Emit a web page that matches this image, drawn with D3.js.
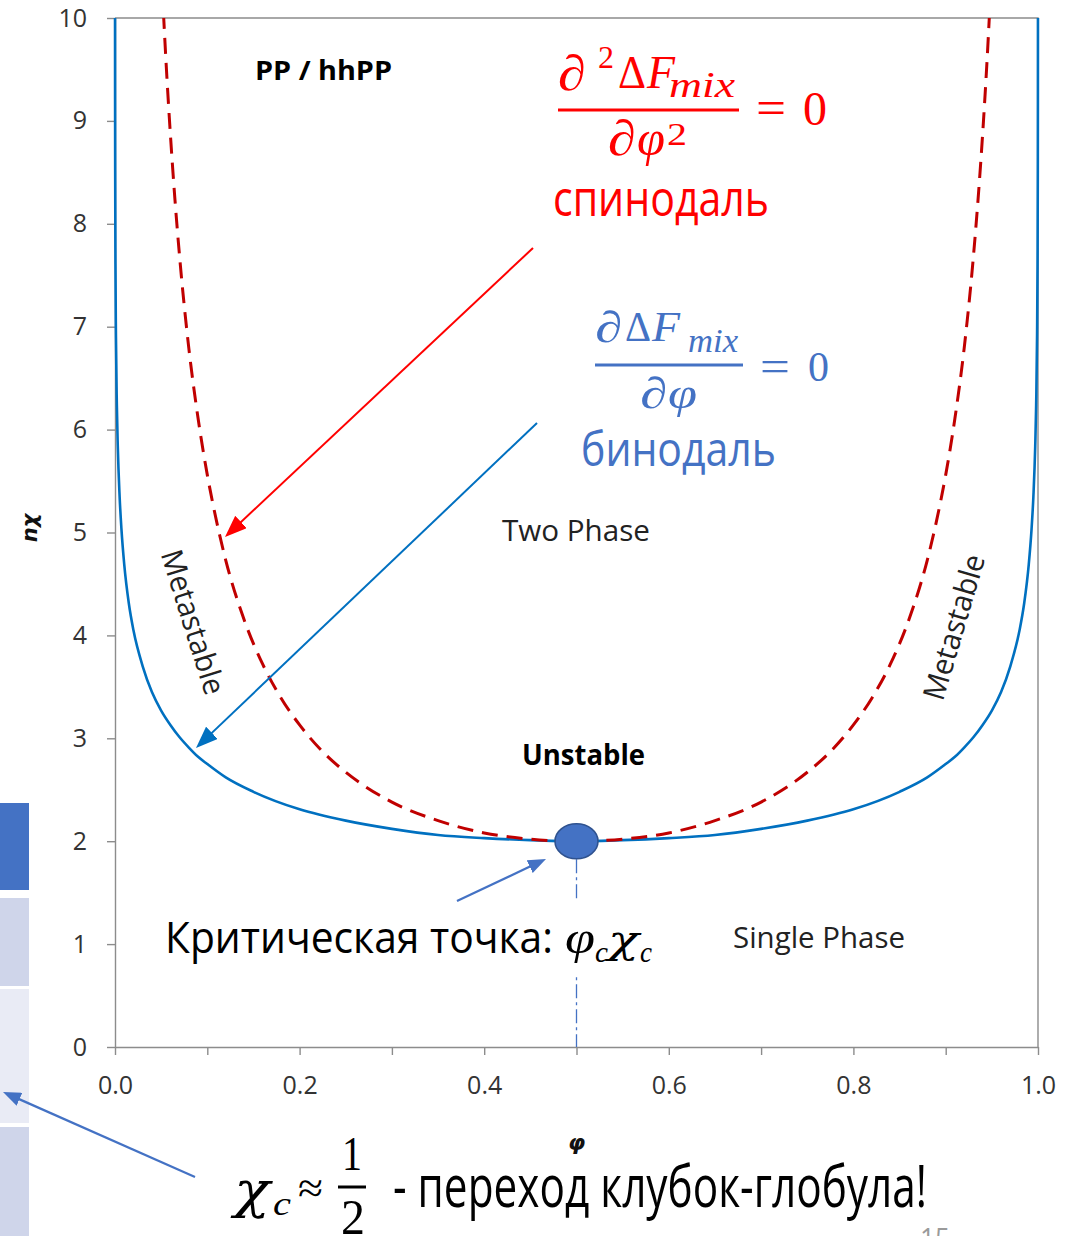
<!DOCTYPE html>
<html>
<head>
<meta charset="utf-8">
<script src="https://cdn.jsdelivr.net/npm/d3@7"></script>
<style>
  html, body { margin: 0; padding: 0; background: #fff; }
  svg { display: block; }
</style>
</head>
<body>
<svg id="chart" width="1084" height="1236"></svg>
<script>
// ---- Data: Flory–Huggins phase diagram (volume fraction φ vs nχ) ----
const xTickValues = [0, 0.1, 0.2, 0.3, 0.4, 0.5, 0.6, 0.7, 0.8, 0.9, 1.0];
const xTickLabels = ["0.0", "", "0.2", "", "0.4", "", "0.6", "", "0.8", "", "1.0"];
const yTickValues = [0, 1, 2, 3, 4, 5, 6, 7, 8, 9, 10];
const yTickLabels = ["0", "1", "2", "3", "4", "5", "6", "7", "8", "9", "10"];

// binodal (coexistence curve)
const binodalPhi = [0.00004, 0.00005, 0.0001, 0.0002, 0.0005, 0.001, 0.002, 0.003, 0.005, 0.007,
  0.01, 0.015, 0.02, 0.03, 0.04, 0.05, 0.06, 0.07, 0.08, 0.09, 0.10, 0.12, 0.15, 0.20, 0.25,
  0.30, 0.35, 0.40, 0.45, 0.50, 0.55, 0.60, 0.65, 0.70, 0.75, 0.80, 0.85, 0.88, 0.90, 0.91,
  0.92, 0.93, 0.94, 0.95, 0.96, 0.97, 0.98, 0.985, 0.99, 0.993, 0.995, 0.997, 0.998, 0.999,
  0.9995, 0.9998, 0.9999, 0.99995, 0.99996];
const binodalChi = [10.13, 9.90, 9.21, 8.52, 7.61, 6.92, 6.24, 5.84, 5.35, 5.03,
  4.69, 4.31, 4.05, 3.70, 3.45, 3.27, 3.13, 3.01, 2.91, 2.82, 2.75, 2.62, 2.48, 2.31, 2.20,
  2.12, 2.06, 2.03, 2.01, 2.00, 2.01, 2.03, 2.06, 2.12, 2.20, 2.31, 2.48, 2.62, 2.75, 2.82,
  2.91, 3.01, 3.13, 3.27, 3.45, 3.70, 4.05, 4.31, 4.69, 5.03, 5.35, 5.84, 6.24, 6.92,
  7.61, 8.52, 9.21, 9.90, 10.13];

// spinodal (stability limit)
const spinodalPhi = [0.0525, 0.055, 0.06, 0.065, 0.07, 0.08, 0.09, 0.10, 0.11, 0.12, 0.14, 0.16,
  0.18, 0.20, 0.225, 0.25, 0.30, 0.35, 0.40, 0.45, 0.50, 0.55, 0.60, 0.65, 0.70, 0.75, 0.775,
  0.80, 0.82, 0.84, 0.86, 0.88, 0.89, 0.90, 0.91, 0.92, 0.93, 0.935, 0.94, 0.945, 0.9475];
const spinodalChi = [10.05, 9.62, 8.87, 8.23, 7.68, 6.79, 6.11, 5.56, 5.11, 4.73, 4.15, 3.72,
  3.39, 3.13, 2.87, 2.67, 2.38, 2.20, 2.08, 2.02, 2.00, 2.02, 2.08, 2.20, 2.38, 2.67, 2.87,
  3.13, 3.39, 3.72, 4.15, 4.73, 5.11, 5.56, 6.11, 6.79, 7.68, 8.23, 8.87, 9.62, 10.05];

// critical point
const criticalPhi = 0.5;
const criticalChi = 2.0;

// ---- Setup ----
const SANS = "'Open Sans', 'Noto Sans', sans-serif";
const SERIF = "'Liberation Serif', 'DejaVu Serif', serif";
const GREEK = "'DejaVu Serif', serif";
const AXIS_GREY = "#8c8c8c";
const BLUE_LINE = "#0070c0";
const RED_LINE = "#c00000";
const SLIDE_BLUE = "#4472c4";

const svg = d3.select("#chart");
const defs = svg.append("defs");

const x = d3.scaleLinear().domain([0, 1]).range([115, 1038]);
const y = d3.scaleLinear().domain([0, 10]).range([1047, 18]);

// table cells peeking in from the left edge of the slide
const cells = [
  { y0: 803, y1: 890, fill: "#4472c4" },
  { y0: 898, y1: 986, fill: "#cfd5ea" },
  { y0: 989, y1: 1123, fill: "#e9ebf5" },
  { y0: 1127, y1: 1240, fill: "#cfd5ea" }
];
svg.append("g").selectAll("rect").data(cells).join("rect")
  .attr("x", 0).attr("width", 29)
  .attr("y", d => d.y0).attr("height", d => d.y1 - d.y0)
  .attr("fill", d => d.fill);

// ---- Axes ----
const yAxis = d3.axisLeft(y)
  .tickValues(yTickValues)
  .tickFormat((d, i) => yTickLabels[i])
  .tickSize(8).tickSizeOuter(0).tickPadding(20);
const gy = svg.append("g").attr("transform", `translate(${x(0)},0)`).call(yAxis);

const xAxis = d3.axisBottom(x)
  .tickValues(xTickValues)
  .tickFormat((d, i) => xTickLabels[i])
  .tickSize(8).tickSizeOuter(0).tickPadding(21);
const gx = svg.append("g").attr("transform", `translate(0,${y(0)})`).call(xAxis);

[gx, gy].forEach(g => {
  g.select(".domain").attr("stroke", AXIS_GREY).attr("stroke-width", 1.4);
  g.selectAll(".tick line").attr("stroke", AXIS_GREY).attr("stroke-width", 1.4);
  g.selectAll(".tick text").attr("fill", "#333").attr("font-family", SANS).attr("font-size", 25);
});

// top and right frame
svg.append("path")
  .attr("d", `M${x(0)},${y(10)}H${x(1)}V${y(0)}`)
  .attr("fill", "none").attr("stroke", AXIS_GREY).attr("stroke-width", 1.4);

// axis titles
svg.append("text")
  .attr("x", x(0.5)).attr("y", 1150)
  .attr("text-anchor", "middle")
  .attr("font-family", "'DejaVu Sans', sans-serif").attr("font-weight", "bold").attr("font-style", "italic")
  .attr("font-size", 22).attr("fill", "#111")
  .text("φ");
svg.append("text")
  .attr("transform", "translate(37,528) rotate(-90)")
  .attr("text-anchor", "middle")
  .attr("font-family", "'DejaVu Sans', sans-serif").attr("font-weight", "bold").attr("font-style", "italic")
  .attr("font-size", 21).attr("fill", "#111")
  .text("nχ");

// ---- Curves ----
defs.append("clipPath").attr("id", "plot-clip")
  .append("rect").attr("x", x(0) - 3).attr("y", y(10)).attr("width", x(1) - x(0) + 6).attr("height", y(0) - y(10));

const line = d3.line().x(d => x(d[0])).y(d => y(d[1])).curve(d3.curveMonotoneX);
const curves = svg.append("g").attr("clip-path", "url(#plot-clip)");

curves.append("path")
  .datum(binodalPhi.map((p, i) => [p, binodalChi[i]]))
  .attr("d", line)
  .attr("fill", "none").attr("stroke", BLUE_LINE).attr("stroke-width", 2.6);

curves.append("path")
  .datum(spinodalPhi.map((p, i) => [p, spinodalChi[i]]))
  .attr("d", line)
  .attr("fill", "none").attr("stroke", RED_LINE).attr("stroke-width", 3)
  .attr("stroke-dasharray", "16,9");

// drop line from the critical point to the φ axis
svg.append("line")
  .attr("x1", x(criticalPhi)).attr("x2", x(criticalPhi))
  .attr("y1", y(criticalChi) + 18).attr("y2", y(0))
  .attr("stroke", SLIDE_BLUE).attr("stroke-width", 1.3)
  .attr("stroke-dasharray", "14,4,3,4");

// ---- Arrows ----
function arrow(x1, y1, x2, y2, color, width, len, wid) {
  const id = "arrow-" + Math.round(x1) + "-" + Math.round(y1);
  defs.append("marker").attr("id", id)
    .attr("viewBox", `0 0 ${len} ${wid}`)
    .attr("refX", len * 0.4).attr("refY", wid / 2)
    .attr("markerWidth", len).attr("markerHeight", wid)
    .attr("markerUnits", "userSpaceOnUse").attr("orient", "auto")
    .append("path").attr("d", `M0,0L${len},${wid / 2}L0,${wid}Z`).attr("fill", color);
  const dx = x2 - x1, dy = y2 - y1, L = Math.hypot(dx, dy);
  const ex = x2 - dx / L * len * 0.6, ey = y2 - dy / L * len * 0.6;
  svg.append("line")
    .attr("x1", x1).attr("y1", y1).attr("x2", ex).attr("y2", ey)
    .attr("stroke", color).attr("stroke-width", width)
    .attr("marker-end", `url(#${id})`);
}

// ---- Text helpers ----
function label(s, px, py, o) {
  const t = svg.append("text")
    .attr("x", px).attr("y", py)
    .attr("font-family", o.family || SANS)
    .attr("font-size", o.size)
    .attr("fill", o.fill || "#000")
    .text(s);
  if (o.weight) t.attr("font-weight", o.weight);
  if (o.italic) t.attr("font-style", "italic");
  if (o.anchor) t.attr("text-anchor", o.anchor);
  if (o.width) t.attr("textLength", o.width).attr("lengthAdjust", "spacingAndGlyphs");
  if (o.rotate !== undefined) {
    t.attr("transform", `rotate(${o.rotate},${px},${py})`).attr("dy", "0.35em");
  }
  return t;
}
function rule(x1, x2, py, color) {
  svg.append("line").attr("x1", x1).attr("x2", x2).attr("y1", py).attr("y2", py)
    .attr("stroke", color).attr("stroke-width", 3);
}

// region labels
label("PP / hhPP", 255, 80, { size: 26, weight: "bold", width: 137 });
label("Two Phase", 502, 541, { size: 30, width: 148, fill: "#222" });
label("Unstable", 522, 765, { size: 29, weight: "bold", width: 123 });
label("Single Phase", 733, 948, { size: 29, width: 172, fill: "#222" });
label("Metastable", 193, 622, { size: 30, width: 150, anchor: "middle", rotate: 72.5, fill: "#222" });
label("Metastable", 954, 627, { size: 30, width: 150, anchor: "middle", rotate: -73.5, fill: "#222" });

// spinodal condition  ∂²ΔF_mix / ∂φ² = 0
const RED = "#ff0000";
label("∂", 558, 90, { size: 50, family: SERIF, italic: true, fill: RED, width: 28 });
label("2", 598, 68, { size: 32, family: SERIF, fill: RED, width: 16 });
label("Δ", 618, 88, { size: 46, family: SERIF, fill: RED, width: 28 });
label("F", 647, 88, { size: 46, family: SERIF, italic: true, fill: RED, width: 28 });
label("mix", 669, 97, { size: 36, family: SERIF, italic: true, fill: RED, width: 66 });
rule(558, 739, 110, RED);
label("∂", 608, 155, { size: 50, family: SERIF, italic: true, fill: RED, width: 28 });
label("φ", 637, 155, { size: 50, family: SERIF, italic: true, fill: RED, width: 28 });
label("2", 667, 145, { size: 32, family: SERIF, fill: RED, width: 20 });
label("=", 756, 124, { size: 48, family: SERIF, fill: RED, width: 30 });
label("0", 803, 125, { size: 48, family: SERIF, fill: RED, width: 24 });
label("спинодаль", 553, 216, { size: 50, fill: RED, width: 216 });

// binodal condition  ∂ΔF_mix / ∂φ = 0
label("∂", 595, 342, { size: 44, family: SERIF, italic: true, fill: SLIDE_BLUE, width: 27 });
label("Δ", 625, 341, { size: 42, family: SERIF, fill: SLIDE_BLUE, width: 26 });
label("F", 652, 341, { size: 42, family: SERIF, italic: true, fill: SLIDE_BLUE, width: 28 });
label("mix", 688, 352, { size: 34, family: SERIF, italic: true, fill: SLIDE_BLUE, width: 50 });
rule(595, 743, 365, SLIDE_BLUE);
label("∂", 640, 408, { size: 44, family: SERIF, italic: true, fill: SLIDE_BLUE, width: 27 });
label("φ", 668, 408, { size: 44, family: SERIF, italic: true, fill: SLIDE_BLUE, width: 29 });
label("=", 760, 381, { size: 44, family: SERIF, fill: SLIDE_BLUE, width: 30 });
label("0", 808, 381, { size: 42, family: SERIF, fill: SLIDE_BLUE, width: 21 });
label("бинодаль", 581, 466, { size: 48, fill: SLIDE_BLUE, width: 195 });

// critical point caption (opaque text box)
svg.append("rect").attr("x", 160).attr("y", 899).attr("width", 500).attr("height", 76).attr("fill", "#fff");
label("Критическая точка:", 165, 953, { size: 44, width: 388 });
label("φ", 565, 953, { size: 46, family: SERIF, italic: true, width: 30 });
label("c", 595, 962, { size: 30, family: SERIF, italic: true, width: 13 });
label("χ", 608, 953, { size: 40, family: GREEK, italic: true, width: 31 });
label("c", 640, 962, { size: 30, family: SERIF, italic: true, width: 12 });

// critical point marker
svg.append("ellipse")
  .attr("cx", x(criticalPhi)).attr("cy", y(criticalChi))
  .attr("rx", 21.5).attr("ry", 17.5)
  .attr("fill", SLIDE_BLUE).attr("stroke", "#2f528f").attr("stroke-width", 1.6);

// bottom statement  χc ≈ 1/2 - переход клубок-глобула!
label("χ", 234, 1207, { size: 50, family: GREEK, italic: true, width: 36 });
label("c", 273, 1215, { size: 34, family: SERIF, italic: true, width: 18 });
label("≈", 298, 1203, { size: 44, family: SERIF, width: 25 });
label("1", 342, 1170, { size: 48, family: SERIF, width: 20 });
rule(338, 366, 1187, "#000");
label("2", 341, 1234, { size: 50, family: SERIF, width: 24 });
label("- переход клубок-глобула!", 393, 1207, { size: 58, width: 534 });

// slide number, cut by the bottom edge
label("15", 920, 1248, { size: 28, fill: "#9a9a9a", width: 30 });

// ---- Pointer arrows ----
arrow(533, 248, 225, 537, "#ff0000", 2, 22, 17);
arrow(537, 423, 196, 748, BLUE_LINE, 2, 22, 17);
arrow(457, 901, 546, 859, SLIDE_BLUE, 2.2, 18, 14);
arrow(195, 1177, 3, 1092, SLIDE_BLUE, 2.2, 18, 14);
</script>
</body>
</html>
